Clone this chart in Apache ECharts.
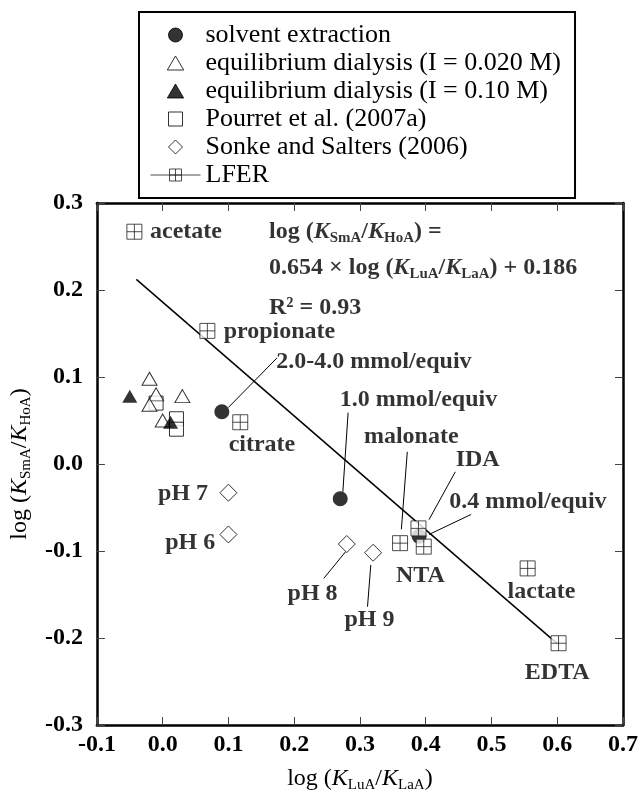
<!DOCTYPE html>
<html>
<head>
<meta charset="utf-8">
<style>
  html, body { margin: 0; padding: 0; background: #fff; }
  #chart { width: 641px; height: 798px; }
</style>
<script src="https://cdn.jsdelivr.net/npm/echarts@6/dist/echarts.min.js"></script>
</head>
<body>
<div id="chart"></div>
<script>
// ---- data: [log(KLuA/KLaA), log(KSmA/KHoA)] ----
const solventExtraction = [[0.09, 0.06], [0.27, -0.04], [0.39, -0.083]];
const dialysisLowI = [[-0.02, 0.098], [-0.01, 0.08], [0.03, 0.078], [-0.02, 0.068], [0.0, 0.05]];
const dialysisHighI = [[-0.05, 0.078], [0.012, 0.048]];
const pourret2007a = [[-0.01, 0.07], [0.021, 0.052], [0.021, 0.04]];
const sonkeSalters2006 = [[0.10, -0.033], [0.10, -0.081], [0.28, -0.092], [0.32, -0.102]];

const lferLigands = ['acetate', 'propionate', 'citrate', 'malonate', 'IDA', 'NTA', 'lactate', 'EDTA'];
const lferX = [-0.043, 0.068, 0.118, 0.361, 0.389, 0.397, 0.555, 0.602];
const lferY = [0.267, 0.153, 0.048, -0.091, -0.074, -0.095, -0.12, -0.206];

// regression line of the LFER ligands
const fitSlope = -0.654;
const fitIntercept = 0.186;
const fitXRange = [-0.04, 0.60];

const xTicks = { min: -0.1, max: 0.7, step: 0.1 };
const yTicks = { min: -0.3, max: 0.3, step: 0.1 };

const seriesNames = [
  'solvent extraction',
  'equilibrium dialysis (I = 0.020 M)',
  'equilibrium dialysis (I = 0.10 M)',
  'Pourret et al. (2007a)',
  'Sonke and Salters (2006)',
  'LFER'
];

// ---- annotation layout (anchor in axis units) ----
const notes = [
  { text: '{b|acetate}', at: [-0.020, 0.267], pos: 'right' },
  { text: '{b|log (}{bi|K}{s|SmA}{b|/}{bi|K}{s|HoA}{b|) =}', at: [0.161, 0.267], pos: 'right' },
  { text: '{b|0.654 × log (}{bi|K}{s|LuA}{b|/}{bi|K}{s|LaA}{b|) + 0.186}', at: [0.161, 0.226], pos: 'right' },
  { text: '{b|R² = 0.93}', at: [0.161, 0.1795], pos: 'right' },
  { text: '{b|propionate}', at: [0.092, 0.152], pos: 'right' },
  { text: '{b|2.0-4.0 mmol/equiv}', at: [0.172, 0.118], pos: 'right' },
  { text: '{b|citrate}', at: [0.151, 0.022], pos: 'inside' },
  { text: '{b|1.0 mmol/equiv}', at: [0.389, 0.074], pos: 'inside' },
  { text: '{b|malonate}', at: [0.378, 0.031], pos: 'inside' },
  { text: '{b|IDA}', at: [0.479, 0.005], pos: 'inside' },
  { text: '{b|0.4 mmol/equiv}', at: [0.435, -0.044], pos: 'right' },
  { text: '{b|NTA}', at: [0.392, -0.129], pos: 'inside' },
  { text: '{b|lactate}', at: [0.576, -0.147], pos: 'inside' },
  { text: '{b|EDTA}', at: [0.600, -0.240], pos: 'inside' },
  { text: '{b|pH 9}', at: [0.3145, -0.1795], pos: 'inside' },
  { text: '{b|pH 8}', at: [0.228, -0.149], pos: 'inside' },
  { text: '{b|pH 7}', at: [0.031, -0.034], pos: 'inside' },
  { text: '{b|pH 6}', at: [0.042, -0.091], pos: 'inside' }
];

const leaders = [
  [[0.100, 0.065], [0.174, 0.122]],
  [[0.274, -0.032], [0.282, 0.059]],
  [[0.363, -0.075], [0.372, 0.014]],
  [[0.405, -0.064], [0.445, -0.009]],
  [[0.405, -0.081], [0.469, -0.058]],
  [[0.3115, -0.164], [0.3165, -0.116]],
  [[0.245, -0.1315], [0.278, -0.101]]
];

const FONT = 'Liberation Serif';
const rich = {
  b: { fontFamily: FONT, fontSize: 24, fontWeight: 'bold', color: '#000', lineHeight: 28 },
  bi: { fontFamily: FONT, fontSize: 24, fontWeight: 'bold', fontStyle: 'italic', color: '#000', lineHeight: 28 },
  s: { fontFamily: FONT, fontSize: 15, fontWeight: 'bold', color: '#000', lineHeight: 13, verticalAlign: 'bottom' }
};
const richAxis = {
  r: { fontFamily: FONT, fontSize: 24, color: '#000', lineHeight: 28 },
  i: { fontFamily: FONT, fontSize: 24, fontStyle: 'italic', color: '#000', lineHeight: 28 },
  s: { fontFamily: FONT, fontSize: 15, color: '#000', lineHeight: 13, verticalAlign: 'bottom' }
};

// marker shapes
const boxCross = 'path://M0,0H10V10H0Z M5,0V10 M0,5H10';
const legendIcons = {
  circle: 'path://M7,0A7,7 0 1,1 6.99,0Z',
  triangle: 'path://M7,0L14,12H0Z',
  rect: 'path://M0,0H12V12H0Z',
  diamond: 'path://M7,0L14,7L7,14L0,7Z',
  lfer: 'path://M0,6H50 M19,0H31V12H19Z M25,0V12 M19,6H31'
};

const frameLine = { show: true, onZero: false, lineStyle: { color: '#000', width: 2.5 } };
const innerTick = { show: true, inside: true, length: 8, lineStyle: { color: '#444', width: 1 } };

function fmt(v) { return (Math.round(v * 10) / 10).toFixed(1); }

const hollow = { color: '#fff', borderColor: '#000', borderWidth: 1 };
const solid = { color: '#000', borderColor: '#000', borderWidth: 0 };

const chart = echarts.init(document.getElementById('chart'), null, { renderer: 'canvas' });
chart.setOption({
  animation: false,
  backgroundColor: '#fff',
  grid: { left: 94, right: 18, top: 203, bottom: 67 },
  legend: {
    orient: 'vertical',
    left: 139,
    top: 12,
    align: 'left',
    padding: [10, 14, 10, 11],
    itemGap: 2,
    itemWidth: 50,
    itemHeight: 14,
    symbolKeepAspect: true,
    borderColor: '#000',
    borderWidth: 2,
    selectedMode: false,
    itemStyle: { borderWidth: 1 },
    textStyle: { fontFamily: FONT, fontSize: 26, color: '#000' },
    data: [
      { name: seriesNames[0], icon: legendIcons.circle },
      { name: seriesNames[1], icon: legendIcons.triangle },
      { name: seriesNames[2], icon: legendIcons.triangle },
      { name: seriesNames[3], icon: legendIcons.rect },
      { name: seriesNames[4], icon: legendIcons.diamond },
      { name: seriesNames[5], icon: legendIcons.lfer }
    ]
  },
  xAxis: [
    {
      type: 'value', min: xTicks.min, max: xTicks.max, interval: xTicks.step,
      axisLine: frameLine, axisTick: innerTick, splitLine: { show: false },
      axisLabel: { formatter: fmt, fontFamily: FONT, fontSize: 24, fontWeight: 'bold', color: '#000', margin: 8 },
      name: '{r|log (}{i|K}{s|LuA}{r|/}{i|K}{s|LaA}{r|)}',
      nameLocation: 'middle', nameGap: 40,
      nameTextStyle: { rich: richAxis }
    },
    {
      type: 'value', position: 'top', min: xTicks.min, max: xTicks.max, interval: xTicks.step,
      axisLine: frameLine, axisTick: innerTick, axisLabel: { show: false }, splitLine: { show: false }
    }
  ],
  yAxis: [
    {
      type: 'value', min: yTicks.min, max: yTicks.max, interval: yTicks.step,
      axisLine: frameLine, axisTick: innerTick, splitLine: { show: false },
      axisLabel: { formatter: fmt, fontFamily: FONT, fontSize: 24, fontWeight: 'bold', color: '#000', margin: 14 },
      name: '{r|log (}{i|K}{s|SmA}{r|/}{i|K}{s|HoA}{r|)}',
      nameLocation: 'middle', nameGap: 58, nameRotate: 90,
      nameTextStyle: { rich: richAxis }
    },
    {
      type: 'value', position: 'right', min: yTicks.min, max: yTicks.max, interval: yTicks.step,
      axisLine: frameLine, axisTick: innerTick, axisLabel: { show: false }, splitLine: { show: false }
    }
  ],
  series: [
    {
      type: 'line', name: 'fit', silent: true, symbol: 'none', z: 2,
      lineStyle: { color: '#000', width: 1.5 },
      data: fitXRange.map(x => [x, fitSlope * x + fitIntercept])
    },
    {
      type: 'lines', coordinateSystem: 'cartesian2d', silent: true, z: 2,
      lineStyle: { color: '#000', width: 1, opacity: 1 },
      data: leaders.map(c => ({ coords: c }))
    },
    { type: 'scatter', name: seriesNames[3], symbol: 'rect', symbolSize: 14, itemStyle: hollow, data: pourret2007a, z: 3 },
    { type: 'scatter', name: seriesNames[4], symbol: 'diamond', symbolSize: 17, itemStyle: hollow, data: sonkeSalters2006, z: 3 },
    { type: 'scatter', name: seriesNames[1], symbol: 'triangle', symbolSize: [15, 13], itemStyle: hollow, data: dialysisLowI, z: 3 },
    { type: 'scatter', name: seriesNames[2], symbol: 'triangle', symbolSize: [15, 13], itemStyle: solid, data: dialysisHighI, z: 3 },
    { type: 'scatter', name: seriesNames[0], symbol: 'circle', symbolSize: 15, itemStyle: solid, data: solventExtraction, z: 3 },
    {
      type: 'scatter', name: seriesNames[5], symbol: boxCross, symbolSize: 15, z: 4,
      itemStyle: { color: '#fff', borderColor: '#222', borderWidth: 1 },
      data: lferX.map((x, i) => ({ name: lferLigands[i], value: [x, lferY[i]] }))
    },
    {
      type: 'scatter', name: 'notes', silent: true, symbol: 'circle', symbolSize: 1, z: 5,
      itemStyle: { color: 'rgba(0,0,0,0)' },
      data: notes.map(n => ({
        value: n.at,
        label: { show: true, position: n.pos, distance: 0, formatter: n.text, rich: rich }
      }))
    }
  ]
});
</script>
</body>
</html>
